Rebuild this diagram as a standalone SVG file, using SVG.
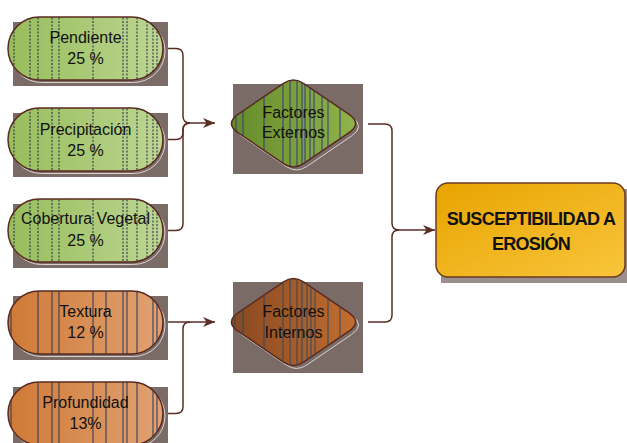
<svg xmlns="http://www.w3.org/2000/svg" width="627" height="443" viewBox="0 0 627 443">
<style>
  .shadow{fill:#7b6b67}
  .halo{fill:none;stroke:#d9d2cf;stroke-width:1}
  .pill{stroke:#5a2a1e;stroke-width:1.5}
  .dia{stroke:#5a2a1e;stroke-width:1.5}
  .lbl{font-family:"Liberation Sans",Arial,sans-serif;font-size:16px;fill:#111;text-anchor:middle}
  .main{font-family:"Liberation Sans",Arial,sans-serif;font-size:18px;font-weight:bold;fill:#111;text-anchor:middle;letter-spacing:-0.7px}
  .conn{fill:none;stroke:#5b2d24;stroke-width:1.5}
</style>
<defs>
  <linearGradient id="gPill" x1="0" y1="0" x2="1" y2="0">
    <stop offset="0" stop-color="#97bd5b"/>
    <stop offset="1" stop-color="#bdd691"/>
  </linearGradient>
  <linearGradient id="oPill" x1="0" y1="0" x2="1" y2="0">
    <stop offset="0" stop-color="#cf7a36"/>
    <stop offset="1" stop-color="#e1a273"/>
  </linearGradient>
  <linearGradient id="gDia" x1="0" y1="0" x2="1" y2="0">
    <stop offset="0" stop-color="#658b2a"/>
    <stop offset="1" stop-color="#90b34b"/>
  </linearGradient>
  <linearGradient id="oDia" x1="0" y1="0" x2="1" y2="0">
    <stop offset="0" stop-color="#884820"/>
    <stop offset="1" stop-color="#c26e30"/>
  </linearGradient>
  <linearGradient id="gold" x1="0" y1="0" x2="1" y2="1">
    <stop offset="0" stop-color="#e7a400"/>
    <stop offset="1" stop-color="#f9c53c"/>
  </linearGradient>
  <pattern id="pG" patternUnits="userSpaceOnUse" x="0" y="0" width="627" height="443">
    <g stroke="#1f2550" stroke-width="1" stroke-dasharray="2,1.5">
      <path d="M14 0V443M30 0V443M38 0V443M52 0V443M59 0V443M93 0V443M123 0V443M127 0V443M137 0V443M147 0V443M153 0V443M157 0V443"/>
    </g>
  </pattern>
  <pattern id="pO" patternUnits="userSpaceOnUse" x="0" y="0" width="627" height="443">
    <g stroke="#24365a" stroke-width="1">
      <path d="M11 0V443M38 0V443M52 0V443M59 0V443M93 0V443M106 0V443M123 0V443M127 0V443M137 0V443M153 0V443M157 0V443"/>
    </g>
  </pattern>
  <pattern id="dG" patternUnits="userSpaceOnUse" x="0" y="0" width="627" height="443">
    <g stroke="#35357a" stroke-width="1">
      <path d="M236 0V443M243 0V443M264 0V443M283 0V443M290 0V443M297 0V443M302 0V443M305 0V443M310 0V443M314 0V443M322 0V443M328 0V443M340 0V443"/>
    </g>
  </pattern>
  <pattern id="dO" patternUnits="userSpaceOnUse" x="0" y="0" width="627" height="443">
    <g stroke="#2a4868" stroke-width="1">
      <path d="M235 0V443M243 0V443M264 0V443M283 0V443M290 0V443M297 0V443M302 0V443M307 0V443M311 0V443M315 0V443M328 0V443M340 0V443"/>
    </g>
  </pattern>
  <path id="dia1" d="M238.3 114.1 L283.15 83.55 Q293.5 76.5 303.85 83.55 L348.7 114.1 Q362.5 123.5 348.7 132.9 L303.85 163.45 Q293.5 170.5 283.15 163.45 L238.3 132.9 Q224.5 123.5 238.3 114.1 Z"/>
  <path id="dia2" d="M238.3 312.6 L283.15 282.05 Q293.5 275 303.85 282.05 L348.7 312.6 Q362.5 322 348.7 331.4 L303.85 361.95 Q293.5 369 283.15 361.95 L238.3 331.4 Q224.5 322 238.3 312.6 Z"/>
  <marker id="arr" markerUnits="userSpaceOnUse" markerWidth="13" markerHeight="11" refX="12" refY="5" orient="auto">
    <path d="M0,0 L12,5 L0,10 L3.5,5 Z" fill="#5b2d24"/>
  </marker>
</defs>

<g id="connectors">
  <path class="conn" d="M163 48.5 H176 Q183 48.5 183 55.5 V116 Q183 123 190 123 H215" marker-end="url(#arr)"/>
  <path class="conn" d="M163 139.5 H176 Q183 139.5 183 132.5 V130 Q183 123 190 123"/>
  <path class="conn" d="M163 230.5 H176 Q183 230.5 183 223.5 V130 Q183 123 190 123"/>
  <path class="conn" d="M163 322 H215" marker-end="url(#arr)"/>
  <path class="conn" d="M163 413.5 H176 Q183 413.5 183 406.5 V329 Q183 322 190 322"/>
  <path class="conn" d="M368 124 H385 Q392 124 392 131 V223 Q392 230 399 230 H435" marker-end="url(#arr)"/>
  <path class="conn" d="M368 322 H385 Q392 322 392 315 V237 Q392 230 399 230"/>
</g>

<g id="pendiente">
  <rect class="shadow" x="13" y="22" width="155" height="64"/>
  <rect class="halo" x="10" y="19.5" width="155" height="63" rx="31.5"/>
  <rect class="pill" x="8" y="17" width="155" height="63" rx="31.5" fill="url(#gPill)"/>
  <rect x="8" y="17" width="155" height="63" rx="31.5" fill="url(#pG)"/>
  <text class="lbl" x="85.5" y="43">Pendiente</text>
  <text class="lbl" x="85.5" y="64">25 %</text>
</g>

<g id="precipitacion">
  <rect class="shadow" x="13" y="113" width="155" height="64"/>
  <rect class="halo" x="10" y="110.5" width="155" height="63" rx="31.5"/>
  <rect class="pill" x="8" y="108" width="155" height="63" rx="31.5" fill="url(#gPill)"/>
  <rect x="8" y="108" width="155" height="63" rx="31.5" fill="url(#pG)"/>
  <text class="lbl" x="85.5" y="135">Precipitación</text>
  <text class="lbl" x="85.5" y="156">25 %</text>
</g>

<g id="cobertura">
  <rect class="shadow" x="13" y="204" width="155" height="64"/>
  <rect class="halo" x="10" y="201.5" width="155" height="63" rx="31.5"/>
  <rect class="pill" x="8" y="199" width="155" height="63" rx="31.5" fill="url(#gPill)"/>
  <rect x="8" y="199" width="155" height="63" rx="31.5" fill="url(#pG)"/>
  <text class="lbl" x="85.5" y="224">Cobertura Vegetal</text>
  <text class="lbl" x="85.5" y="246">25 %</text>
</g>

<g id="textura">
  <rect class="shadow" x="13" y="296" width="155" height="64"/>
  <rect class="halo" x="10" y="293.5" width="155" height="63" rx="31.5"/>
  <rect class="pill" x="8" y="291" width="155" height="63" rx="31.5" fill="url(#oPill)"/>
  <rect x="8" y="291" width="155" height="63" rx="31.5" fill="url(#pO)"/>
  <text class="lbl" x="85.5" y="317">Textura</text>
  <text class="lbl" x="85.5" y="338">12 %</text>
</g>

<g id="profundidad">
  <rect class="shadow" x="13" y="387" width="155" height="64"/>
  <rect class="halo" x="10" y="384.5" width="155" height="63" rx="31.5"/>
  <rect class="pill" x="8" y="382" width="155" height="63" rx="31.5" fill="url(#oPill)"/>
  <rect x="8" y="382" width="155" height="63" rx="31.5" fill="url(#pO)"/>
  <text class="lbl" x="85.5" y="408">Profundidad</text>
  <text class="lbl" x="85.5" y="429">13%</text>
</g>

<g id="factores-externos">
  <rect class="shadow" x="233" y="84" width="130" height="90"/>
  <use href="#dia1" class="halo" transform="translate(3,3)"/>
  <use href="#dia1" class="dia" fill="url(#gDia)"/>
  <use href="#dia1" fill="url(#dG)"/>
  <text class="lbl" x="293.5" y="118">Factores</text>
  <text class="lbl" x="293.5" y="138">Externos</text>
</g>

<g id="factores-internos">
  <rect class="shadow" x="233" y="282" width="130" height="91"/>
  <use href="#dia2" class="halo" transform="translate(3,3)"/>
  <use href="#dia2" class="dia" fill="url(#oDia)"/>
  <use href="#dia2" fill="url(#dO)"/>
  <text class="lbl" x="293.5" y="317">Factores</text>
  <text class="lbl" x="293.5" y="338">Internos</text>
</g>

<g id="susceptibilidad">
  <rect x="441" y="189" width="186" height="94" fill="#9a8f8c"/>
  <rect x="436" y="183" width="189" height="94" rx="12" fill="url(#gold)" stroke="#6b3a1f" stroke-width="1.5"/>
  <text class="main" x="531" y="225">SUSCEPTIBILIDAD A</text>
  <text class="main" x="531" y="250">EROSIÓN</text>
</g>
</svg>
